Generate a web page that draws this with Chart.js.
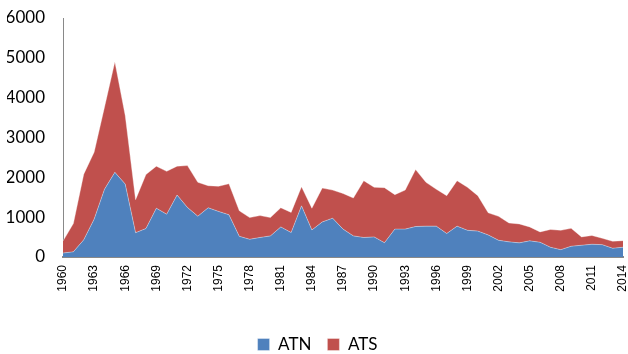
<!DOCTYPE html>
<html>
<head>
<meta charset="utf-8">
<script src="https://cdn.jsdelivr.net/npm/chart.js@4/dist/chart.umd.min.js"></script>
<style>
  html, body { margin: 0; padding: 0; background: #fff; }
  #wrap { width: 628px; height: 354px; }
</style>
</head>
<body>
<div id="wrap"><canvas id="areaChart" width="628" height="354"></canvas></div>
<script>
const years = [];
for (let y = 1960; y <= 2014; y++) years.push(String(y));

const atn = [
  100, 130, 430, 950, 1700, 2125, 1830, 610, 715, 1225,
  1075, 1555, 1245, 1025, 1235, 1145, 1060, 520, 445, 490,
  530, 755, 615, 1285, 680, 880, 975, 700, 530, 490,
  505, 360, 700, 700, 765, 775, 775, 590, 775, 670,
  650, 555, 420, 380, 355, 405, 370, 245, 185, 270,
  295, 320, 310, 220, 245
];

const ats = [
  300, 710, 1650, 1680, 2060, 2775, 1720, 830, 1355, 1055,
  1075, 725, 1050, 850, 555, 630, 780, 640, 545, 550,
  460, 480, 505, 480, 545, 850, 705, 895, 950, 1425,
  1245, 1380, 865, 980, 1430, 1100, 925, 950, 1140, 1080,
  890, 555, 600, 475, 475, 350, 260, 445, 485, 450,
  210, 220, 160, 175, 165
];

const yTicks = [0, 1000, 2000, 3000, 4000, 5000, 6000];

const ctx = document.getElementById("areaChart");
const chart = new Chart(ctx, {
  type: "line",
  data: {
    labels: years,
    datasets: [
      {
        label: "ATN",
        data: atn,
        backgroundColor: "#4F81BD",
        borderColor: "rgba(255,255,255,0.35)",
        borderWidth: 1,
        pointRadius: 0,
        fill: "origin",
        tension: 0,
      },
      {
        label: "ATS",
        data: ats,
        backgroundColor: "#C0504D",
        borderColor: "rgba(255,255,255,0.35)",
        borderWidth: 1,
        pointRadius: 0,
        fill: "-1",
        tension: 0,
      },
    ],
  },
  options: {
    responsive: false,
    animation: false,
    layout: { padding: { top: 18, right: 0, left: 7, bottom: -9 } },
    plugins: {
      tooltip: { enabled: false },
      legend: {
        display: true,
        position: "bottom",
        labels: {
          boxWidth: 12,
          boxHeight: 12,
          padding: 16,
          color: "#000",
          font: { family: "Lato", size: 17 },
        },
      },
    },
    scales: {
      x: {
        offset: false,
        grid: { display: false, drawTicks: false },
        border: { display: true, color: "#898989", width: 2 },
        afterFit: function (axis) {
          // room between the year labels and the legend
          axis.height = 63;
          axis.paddingLeft = 0;
          axis.paddingRight = 5;
        },
        ticks: {
          autoSkip: false,
          maxRotation: 90,
          minRotation: 90,
          color: "#000",
          padding: 8,
          font: { family: "Liberation Sans", size: 12 },
          callback: function (value, index) {
            return index % 3 === 0 ? years[index] : null;
          },
        },
      },
      y: {
        stacked: true,
        min: 0,
        max: 6000,
        grid: { display: false, drawTicks: false },
        border: { display: true, color: "#898989", width: 1 },
        afterBuildTicks: function (axis) {
          axis.ticks = yTicks.map((v) => ({ value: v }));
        },
        afterFit: function (axis) {
          axis.width = 56;
          axis.paddingTop = 0;
          axis.paddingBottom = 0;
        },
        ticks: {
          color: "#000",
          padding: 18,
          font: { family: "Lato", size: 17 },
          callback: function (value) {
            return String(value);
          },
        },
      },
    },
  },
});
</script>
</body>
</html>
